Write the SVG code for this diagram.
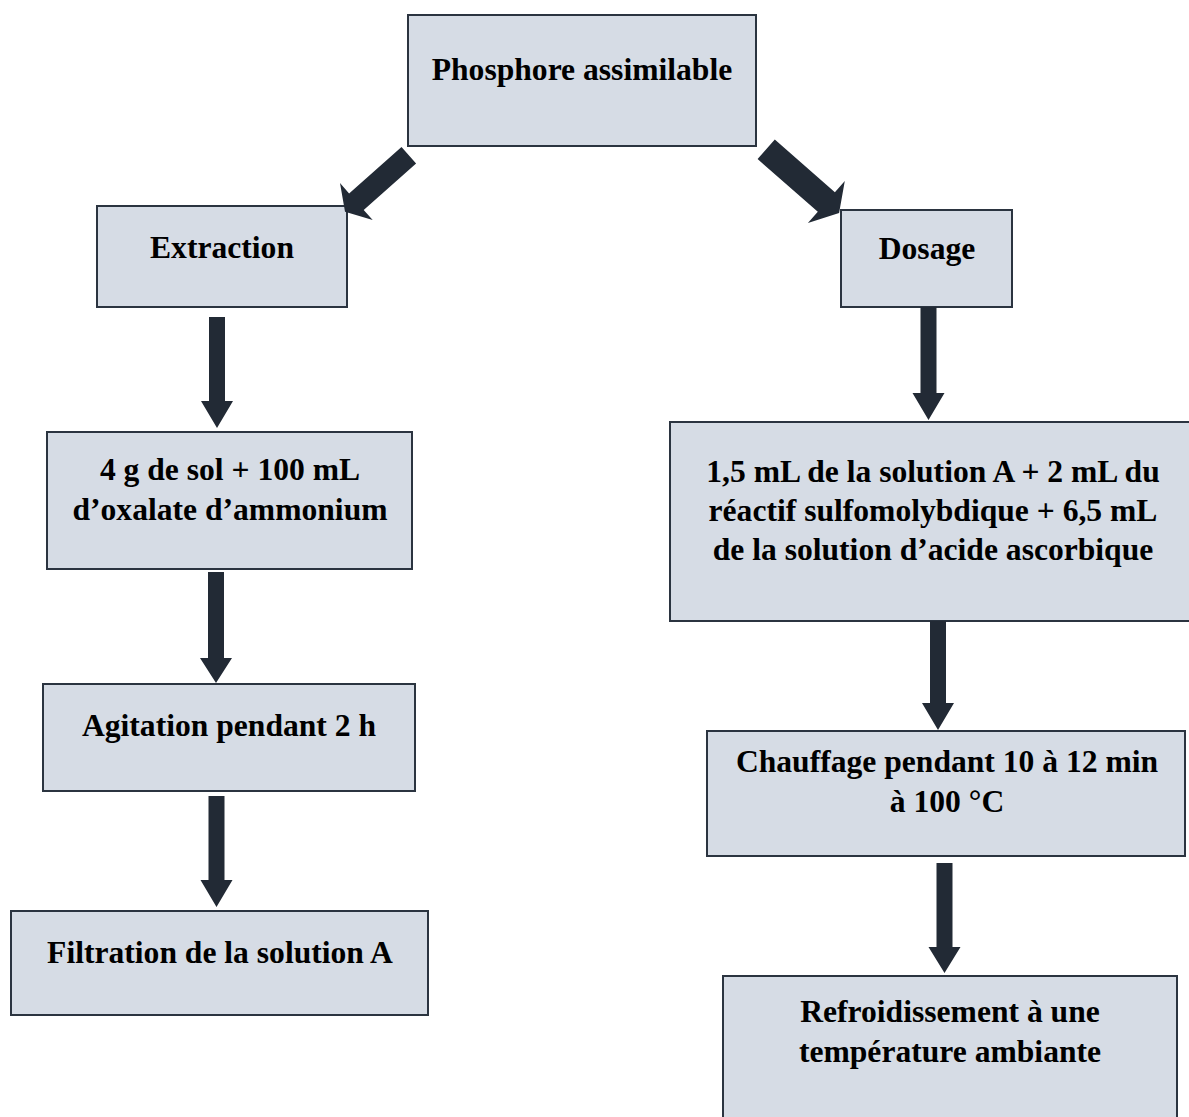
<svg xmlns="http://www.w3.org/2000/svg" width="1189" height="1117" viewBox="0 0 1189 1117">
  <style>
    .box { fill: #d6dce5; stroke: #2b3440; stroke-width: 2; }
    .lbl { font-family: "Liberation Serif", "Times New Roman", serif; font-weight: bold; font-size: 31.6px; fill: #000; text-anchor: middle; }
    .arrow { fill: #222a35; stroke: none; }
  </style>
  <rect width="1189" height="1117" fill="#ffffff"/>

  <g id="node-phosphore">
    <rect class="box" x="408" y="15" width="348" height="131"/>
    <text class="lbl" x="582" y="80">Phosphore assimilable</text>
  </g>

  <g id="node-extraction">
    <rect class="box" x="97" y="206" width="250" height="101"/>
    <text class="lbl" x="222" y="258">Extraction</text>
  </g>

  <g id="node-sol">
    <rect class="box" x="47" y="432" width="365" height="137"/>
    <text class="lbl" x="230" y="480">4 g de sol + 100 mL</text>
    <text class="lbl" x="230" y="520">d’oxalate d’ammonium</text>
  </g>

  <g id="node-agitation">
    <rect class="box" x="43" y="684" width="372" height="107"/>
    <text class="lbl" x="229" y="736">Agitation pendant 2 h</text>
  </g>

  <g id="node-filtration">
    <rect class="box" x="11" y="911" width="417" height="104"/>
    <text class="lbl" x="220" y="963">Filtration de la solution A</text>
  </g>

  <g id="node-dosage">
    <rect class="box" x="841" y="210" width="171" height="97"/>
    <text class="lbl" x="927" y="259">Dosage</text>
  </g>

  <g id="node-melange">
    <rect class="box" x="670" y="422" width="540" height="199"/>
    <text class="lbl" x="933" y="482">1,5 mL de la solution A + 2 mL du</text>
    <text class="lbl" x="933" y="521">réactif sulfomolybdique + 6,5 mL</text>
    <text class="lbl" x="933" y="560">de la solution d’acide ascorbique</text>
  </g>

  <g id="node-chauffage">
    <rect class="box" x="707" y="731" width="478" height="125"/>
    <text class="lbl" x="947" y="772">Chauffage pendant 10 à 12 min</text>
    <text class="lbl" x="947" y="812">à 100 °C</text>
  </g>

  <g id="node-refroidissement">
    <rect class="box" x="723" y="976" width="454" height="170"/>
    <text class="lbl" x="950" y="1022">Refroidissement à une</text>
    <text class="lbl" x="950" y="1062">température ambiante</text>
  </g>

  <g id="connectors">
    <!-- diagonal block arrows from the top box -->
    <polygon class="arrow" points="416.1,163.5 363.7,209.9 372.7,220.1 345,211.7 340,183.1 349.1,193.4 401.5,147.1"/>
    <polygon class="arrow" points="757.6,159.1 817.8,211.7 807.9,223 839.1,213.1 844.8,180.9 834.9,192.2 774.8,139.5"/>
    <!-- vertical block arrows: shaft 16 wide, head 32 wide -->
    <polygon class="arrow" points="209,317 225,317 225,401 233,401 217,428 201,401 209,401"/>
    <polygon class="arrow" points="208,572 224,572 224,658 232,658 216,683 200,658 208,658"/>
    <polygon class="arrow" points="208.5,796 224.5,796 224.5,880 232.5,880 216.5,907 200.5,880 208.5,880"/>
    <polygon class="arrow" points="920.5,307 936.5,307 936.5,393 944.5,393 928.5,420 912.5,393 920.5,393"/>
    <polygon class="arrow" points="930,621 946,621 946,703 954,703 938,730 922,703 930,703"/>
    <polygon class="arrow" points="936.5,863 952.5,863 952.5,947 960.5,947 944.5,973 928.5,947 936.5,947"/>
  </g>
</svg>
